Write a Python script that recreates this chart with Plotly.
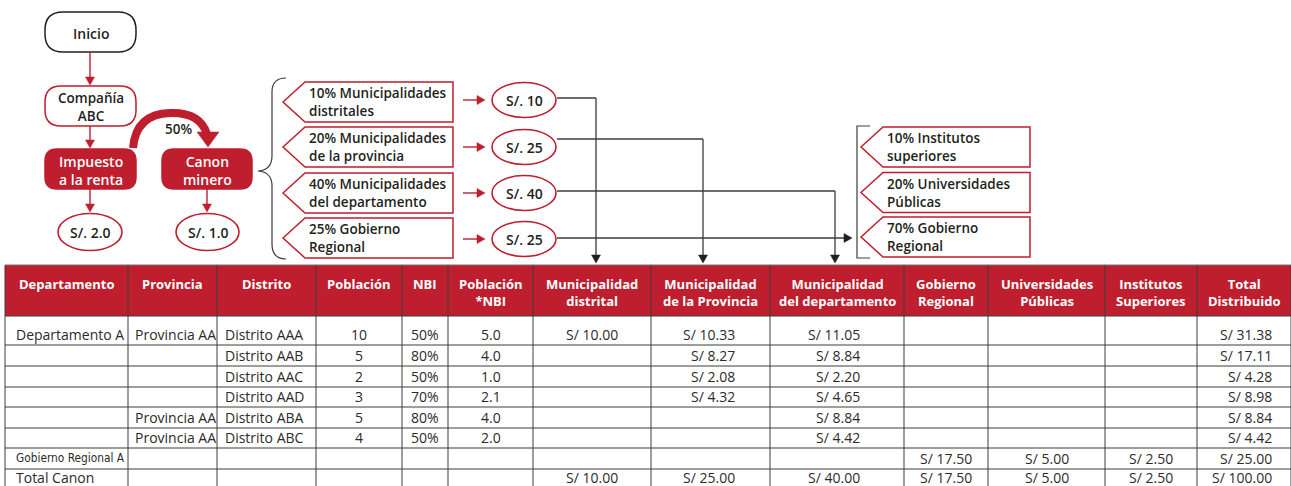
import plotly.graph_objects as go

# ---------------- data ----------------
headers = ["Departamento", "Provincia", "Distrito", "Población", "NBI", "Población<br>*NBI",
           "Municipalidad<br>distrital", "Municipalidad<br>de la Provincia", "Municipalidad<br>del departamento",
           "Gobierno<br>Regional", "Universidades<br>Públicas", "Institutos<br>Superiores", "Total<br>Distribuido"]
departamento = ["Departamento A", "", "", "", "", "", "Gobierno Regional A", "Total Canon"]
provincia = ["Provincia AA", "", "", "", "Provincia AA", "Provincia AA", "", ""]
distrito = ["Distrito AAA", "Distrito AAB", "Distrito AAC", "Distrito AAD", "Distrito ABA", "Distrito ABC", "", ""]
poblacion = [10, 5, 2, 3, 5, 4, None, None]
nbi = [0.50, 0.80, 0.50, 0.70, 0.80, 0.50, None, None]
pob_nbi = [5.0, 4.0, 1.0, 2.1, 4.0, 2.0, None, None]
muni_distrital = [10.00, None, None, None, None, None, None, 10.00]
muni_provincia = [10.33, 8.27, 2.08, 4.32, None, None, None, 25.00]
muni_departamento = [11.05, 8.84, 2.20, 4.65, 8.84, 4.42, None, 40.00]
gobierno_regional = [None, None, None, None, None, None, 17.50, 17.50]
universidades = [None, None, None, None, None, None, 5.00, 5.00]
institutos = [None, None, None, None, None, None, 2.50, 2.50]
total_distribuido = [31.38, 17.11, 4.28, 8.98, 8.84, 4.42, 25.00, 100.00]

flow_start = "Inicio"
company = "Compañía<br>ABC"
tax_box = "Impuesto<br>a la renta"
canon_box = "Canon<br>minero"
canon_share = "50%"
tax_amount = "S/. 2.0"
canon_amount = "S/. 1.0"
canon_shares = ["10% Municipalidades<br>distritales", "20% Municipalidades<br>de la provincia",
                "40% Municipalidades<br>del departamento", "25% Gobierno<br>Regional"]
canon_amounts = ["S/. 10", "S/. 25", "S/. 40", "S/. 25"]
regional_shares = ["10% Institutos<br>superiores", "20% Universidades<br>Públicas", "70% Gobierno<br>Regional"]

# ---------------- style / layout ----------------
W, H = 1291, 486
RED = "#BE1E2D"
DARK = "#231F20"
LINE = "#3C3C3C"
FONT = "Open Sans, Lato, sans-serif"
NARROW = "Liberation Sans Narrow, DejaVu Sans Condensed, Arial Narrow, sans-serif"

col_edges = [5, 128, 217, 316, 402, 448, 533, 651, 770, 904, 988, 1105, 1197, 1291]
col_align = [("left", 9), ("left", 5), ("left", 6), ("center", 0), ("center", 0), ("center", 0),
             ("center", 0), ("right", 33), ("right", 42), ("center", 0), ("center", 0), ("center", 0),
             ("right", 17)]
table_top, header_bottom = 265, 316
row_edges = [316, 345, 366, 387, 407, 428, 448, 469, 490]

shapes = []
annotations = []


def text(x, y, s, size=13, color=DARK, xanchor="center", family=FONT, yanchor="middle", weight=None):
    f = dict(size=size, color=color, family=family)
    if weight:
        f["weight"] = weight
    annotations.append(dict(x=x, y=y, xref="x", yref="y", text=s, showarrow=False,
                            xanchor=xanchor, yanchor=yanchor, align=xanchor,
                            font=f))


def rrect(x0, y0, x1, y1, r, line, fill="white", width=1.5):
    p = (f"M {x0+r},{y0} L {x1-r},{y0} Q {x1},{y0} {x1},{y0+r} L {x1},{y1-r} Q {x1},{y1} {x1-r},{y1} "
         f"L {x0+r},{y1} Q {x0},{y1} {x0},{y1-r} L {x0},{y0+r} Q {x0},{y0} {x0+r},{y0} Z")
    shapes.append(dict(type="path", path=p, xref="x", yref="y", line=dict(color=line, width=width),
                       fillcolor=fill, layer="above"))


def line(x0, y0, x1, y1, color=LINE, width=1.3):
    shapes.append(dict(type="line", x0=x0, y0=y0, x1=x1, y1=y1, xref="x", yref="y",
                       line=dict(color=color, width=width), layer="above"))


def tri(points, color):
    p = "M " + " L ".join(f"{a},{b}" for a, b in points) + " Z"
    shapes.append(dict(type="path", path=p, xref="x", yref="y", line=dict(color=color, width=0.5),
                       fillcolor=color, layer="above"))


def arrow_down(x, y0, y1, color, s=4.5):
    line(x, y0, x, y1 - 5, color=color, width=1.4)
    tri([(x - s, y1 - 8), (x + s, y1 - 8), (x, y1)], color)


def arrow_right(x0, x1, y, color, s=4.5):
    line(x0, y, x1 - 5, y, color=color, width=1.4)
    tri([(x1 - 8, y - s), (x1 - 8, y + s), (x1, y)], color)


def ellipse(cx, cy, w, h, s):
    shapes.append(dict(type="circle", x0=cx - w / 2, x1=cx + w / 2, y0=cy - h / 2, y1=cy + h / 2,
                       xref="x", yref="y", line=dict(color=RED, width=1.6), fillcolor="white", layer="above"))
    text(cx, cy, s, size=14, weight=600)


def pentagon(xp, xl, xr, y0, y1, s):
    ym = (y0 + y1) / 2
    p = f"M {xp},{ym} L {xl},{y0} L {xr},{y0} L {xr},{y1} L {xl},{y1} Z"
    shapes.append(dict(type="path", path=p, xref="x", yref="y", line=dict(color=RED, width=1.5),
                       fillcolor="white", layer="above"))
    text(xl + 2, ym, s, size=13.5, xanchor="left", weight=600)


# ---------------- flow diagram ----------------
rrect(45, 12, 136, 52, 18, DARK)
text(90.5, 33, flow_start, size=14, weight=600)
arrow_down(90, 52, 85, RED)
rrect(45, 86, 136, 126, 16, RED)
text(90.5, 107, company, size=13.5, weight=600)
arrow_down(90, 126, 148, RED)
rrect(45, 149, 136, 189, 12, RED, fill=RED)
text(90.5, 170, tax_box, size=14, color="white", weight=600)
rrect(162, 149, 252, 189, 12, RED, fill=RED)
text(207, 170, canon_box, size=14, color="white", weight=600)
arrow_down(90, 189, 212, RED)
arrow_down(207, 189, 212, RED)
ellipse(90, 232, 64, 37, tax_amount)
ellipse(207.5, 232, 63, 37, canon_amount)

# curved 50% arrow
shapes.append(dict(type="path", path="M 133,148 Q 136,114 170,113 Q 200,112 207,134",
                   xref="x", yref="y", line=dict(color=RED, width=8), layer="above"))
tri([(197, 132), (219, 132), (208, 147)], RED)
text(178, 129, canon_share, size=13.5, weight=600)

# curly brace
shapes.append(dict(type="path",
                   path="M 286,78 Q 272,78 272,92 L 272,156 Q 272,170 258,171 Q 272,172 272,186 L 272,244 Q 272,259 286,259",
                   xref="x", yref="y", line=dict(color=LINE, width=1.2), layer="above"))

box_tops = [82, 127, 173, 218]
ell_cy = [100, 147, 193, 239]
drop_x = [596, 703, 835]
line_y = [98, 139, 191, 238]
for i, (s, a) in enumerate(zip(canon_shares, canon_amounts)):
    y0 = box_tops[i]
    pentagon(283, 305, 453, y0, y0 + 40, s)
    arrow_right(463, 485, ell_cy[i], RED)
    ellipse(524, ell_cy[i], 64, 35, a)
    if i < 3:
        line(557, line_y[i], drop_x[i], line_y[i])
        line(drop_x[i], line_y[i], drop_x[i], 257)
        tri([(drop_x[i] - 4.5, 255), (drop_x[i] + 4.5, 255), (drop_x[i], 263)], DARK)
    else:
        line(557, line_y[i], 846, line_y[i])
        tri([(844, line_y[i] - 4.5), (844, line_y[i] + 4.5), (852, line_y[i])], DARK)

# square bracket
shapes.append(dict(type="path", path="M 870,126 L 857,126 L 857,258 L 870,258",
                   xref="x", yref="y", line=dict(color=LINE, width=1.2), layer="above"))
reg_tops = [127, 172.5, 217]
for i, s in enumerate(regional_shares):
    pentagon(861, 883, 1030, reg_tops[i], reg_tops[i] + 40, s)

# ---------------- table ----------------
shapes.append(dict(type="rect", x0=col_edges[0], x1=col_edges[-1], y0=table_top, y1=header_bottom,
                   xref="x", yref="y", fillcolor=RED, line=dict(width=0), layer="below"))
line(col_edges[0], table_top, col_edges[-1], table_top, color="#777777", width=1.2)
for y in row_edges:
    line(col_edges[0], y, col_edges[-1], y, color=LINE, width=1)
for x in col_edges:
    line(x, table_top, x, row_edges[-1], color=LINE, width=1)

for j, h in enumerate(headers):
    cx = (col_edges[j] + col_edges[j + 1]) / 2
    text(cx, 273, h, size=13, color="white", yanchor="top", weight="bold")


def money(v):
    return f"S/ {v:.2f}"


columns = [
    departamento, provincia, distrito,
    [str(v) if v is not None else "" for v in poblacion],
    [f"{v:.0%}" if v is not None else "" for v in nbi],
    [f"{v:.1f}" if v is not None else "" for v in pob_nbi],
    [money(v) if v is not None else "" for v in muni_distrital],
    [money(v) if v is not None else "" for v in muni_provincia],
    [money(v) if v is not None else "" for v in muni_departamento],
    [money(v) if v is not None else "" for v in gobierno_regional],
    [money(v) if v is not None else "" for v in universidades],
    [money(v) if v is not None else "" for v in institutos],
    [money(v) if v is not None else "" for v in total_distribuido],
]

n_rows = len(total_distribuido)
for j, col in enumerate(columns):
    al, pad = col_align[j]
    for i, s in enumerate(col):
        if not s:
            continue
        y = row_edges[i + 1] - 11
        if i == n_rows - 1:
            y = row_edges[i] + 8.5
        if al == "left":
            x, xa = col_edges[j] + pad, "left"
        elif al == "right":
            x, xa = col_edges[j + 1] - pad, "right"
        else:
            x, xa = (col_edges[j] + col_edges[j + 1]) / 2, "center"
        fam, size = FONT, 14
        if j == 0 and i == 6:
            fam, size = NARROW, 11.8
        text(x, y, s, size=size, xanchor=xa, family=fam, color="#2b2b2b")

fig = go.Figure()
fig.add_trace(go.Scatter(x=[0, W], y=[0, H], mode="markers", marker=dict(opacity=0), hoverinfo="skip",
                         showlegend=False))
fig.update_layout(width=W, height=H, margin=dict(l=0, r=0, t=0, b=0),
                  paper_bgcolor="white", plot_bgcolor="white",
                  xaxis=dict(range=[0, W], visible=False, fixedrange=True),
                  yaxis=dict(range=[H, 0], visible=False, fixedrange=True),
                  shapes=shapes, annotations=annotations, showlegend=False)
fig.write_html("out.html", config={"displayModeBar": False},
               post_script="document.body.style.margin='0';document.body.style.overflow='hidden';")
